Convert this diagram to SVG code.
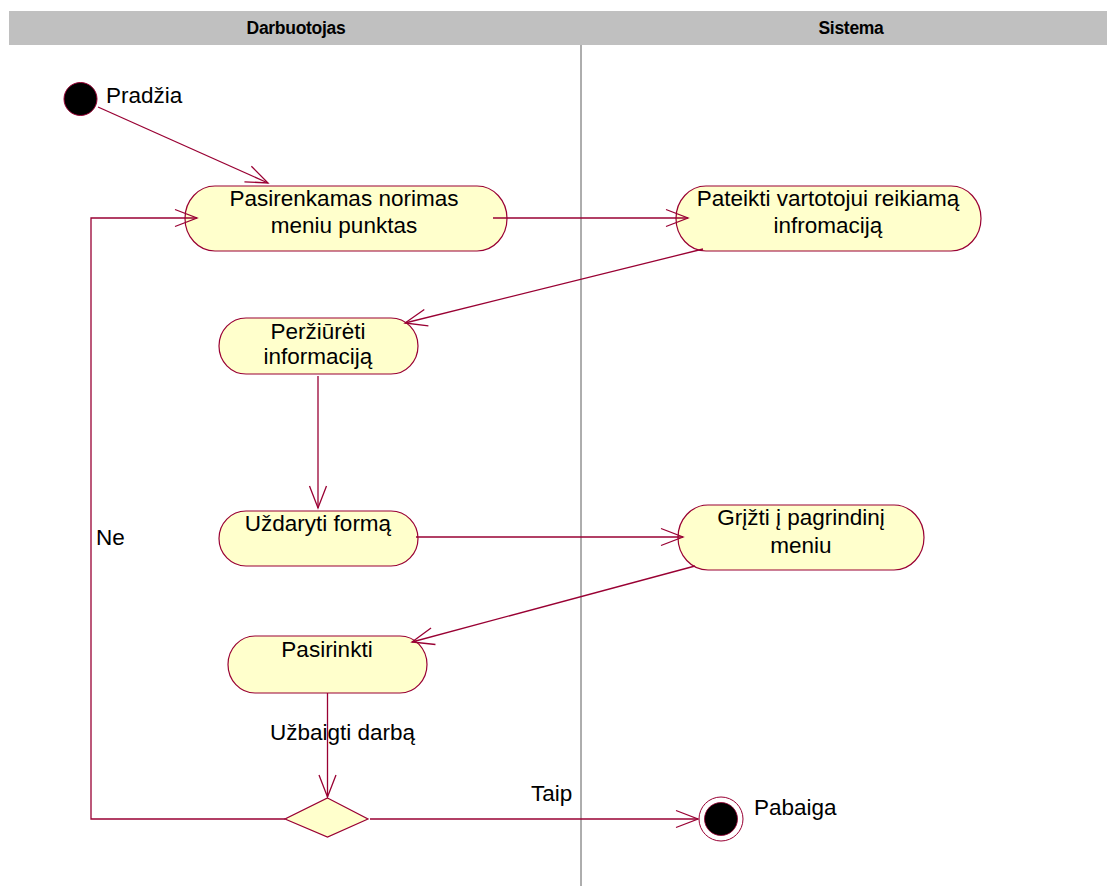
<svg xmlns="http://www.w3.org/2000/svg" width="1107" height="886" viewBox="0 0 1107 886">
  <style>
    .lane-title { font-family: "Liberation Sans", Arial, sans-serif; font-size: 17.5px; font-weight: bold; fill: #000; text-anchor: middle; letter-spacing: -0.3px; }
    .label { font-family: "Liberation Sans", Arial, sans-serif; font-size: 22.5px; fill: #000; }
    .node-text { font-family: "Liberation Sans", Arial, sans-serif; font-size: 22.5px; fill: #000; text-anchor: middle; }
    .activity { fill: #FFFFCC; stroke: #990033; stroke-width: 1.2; }
    .flow { fill: none; stroke: #990033; stroke-width: 1.3; }
  </style>
  <defs>
    <marker id="open-arrow" markerUnits="userSpaceOnUse" viewBox="-25 -12 28 24" refX="0" refY="0" markerWidth="28" markerHeight="24" orient="auto">
      <path d="M -22 -8.5 L 0 0 L -22 8.5" fill="none" stroke="#990033" stroke-width="1.3"/>
    </marker>
  </defs>

  <rect width="1107" height="886" fill="#FFFFFF"/>

  <!-- swimlane headers -->
  <g id="lanes">
    <rect x="9" y="11" width="1098" height="34" fill="#C0C0C0"/>
    <text class="lane-title" x="296" y="34">Darbuotojas</text>
    <text class="lane-title" x="851" y="34">Sistema</text>
    <line x1="581" y1="45" x2="581" y2="886" stroke="#333" stroke-width="0.8"/>
  </g>

  <!-- initial state -->
  <g id="start">
    <circle cx="80.5" cy="99" r="16.5" fill="#000" stroke="#990033" stroke-width="1"/>
    <text class="label" x="106" y="103">Pradžia</text>
  </g>

  <g id="n-pasirenkamas">
    <rect class="activity" x="185" y="186" width="322" height="65" rx="30" ry="32.5"/>
    <text class="node-text" x="344" y="206">Pasirenkamas norimas</text>
    <text class="node-text" x="344" y="233">meniu punktas</text>
  </g>

  <g id="n-pateikti">
    <rect class="activity" x="676" y="186" width="305" height="65" rx="30" ry="32.5"/>
    <text class="node-text" x="828" y="206">Pateikti vartotojui reikiamą</text>
    <text class="node-text" x="828" y="233">infromaciją</text>
  </g>

  <g id="n-perziureti">
    <rect class="activity" x="219" y="318" width="199" height="56" rx="27" ry="28"/>
    <text class="node-text" x="318" y="339">Peržiūrėti</text>
    <text class="node-text" x="318" y="364">informaciją</text>
  </g>

  <g id="n-uzdaryti">
    <rect class="activity" x="219" y="511" width="199" height="55" rx="27" ry="27.5"/>
    <text class="node-text" x="318" y="531">Uždaryti formą</text>
  </g>

  <g id="n-grizti">
    <rect class="activity" x="678" y="505" width="246" height="65" rx="30" ry="32.5"/>
    <text class="node-text" x="801" y="525">Grįžti į pagrindinį</text>
    <text class="node-text" x="801" y="553">meniu</text>
  </g>

  <g id="n-pasirinkti">
    <rect class="activity" x="228" y="636" width="199" height="57" rx="27" ry="28.5"/>
    <text class="node-text" x="327" y="657">Pasirinkti</text>
  </g>

  <g id="decision">
    <polygon class="activity" points="327.5,798 368,819 327.5,837 285,819"/>
  </g>

  <!-- final state -->
  <g id="end">
    <circle cx="721" cy="819" r="22" fill="#FFFFFF" stroke="#990033" stroke-width="1"/>
    <circle cx="721" cy="819" r="16.5" fill="#000" stroke="#990033" stroke-width="0.8"/>
    <text class="label" x="754" y="815">Pabaiga</text>
  </g>

  <!-- control flows -->
  <g id="flows">
    <line class="flow" x1="98" y1="107" x2="268" y2="183" marker-end="url(#open-arrow)"/>
    <line class="flow" x1="493" y1="218" x2="688" y2="218" marker-end="url(#open-arrow)"/>
    <line class="flow" x1="703" y1="249" x2="405" y2="323" marker-end="url(#open-arrow)"/>
    <line class="flow" x1="318" y1="376" x2="318" y2="508" marker-end="url(#open-arrow)"/>
    <line class="flow" x1="416" y1="537" x2="683" y2="537" marker-end="url(#open-arrow)"/>
    <line class="flow" x1="695" y1="566" x2="412" y2="642" marker-end="url(#open-arrow)"/>
    <line class="flow" x1="327.5" y1="693" x2="327.5" y2="797" marker-end="url(#open-arrow)"/>
    <polyline class="flow" points="285,819 91,819 91,218 197,218" marker-end="url(#open-arrow)"/>
    <line class="flow" x1="370" y1="819" x2="698" y2="819" marker-end="url(#open-arrow)"/>
  </g>

  <!-- flow labels -->
  <g id="flow-labels">
    <text class="label" x="96" y="545">Ne</text>
    <text class="label" x="270" y="740">Užbaigti darbą</text>
    <text class="label" x="531" y="801">Taip</text>
  </g>
</svg>
